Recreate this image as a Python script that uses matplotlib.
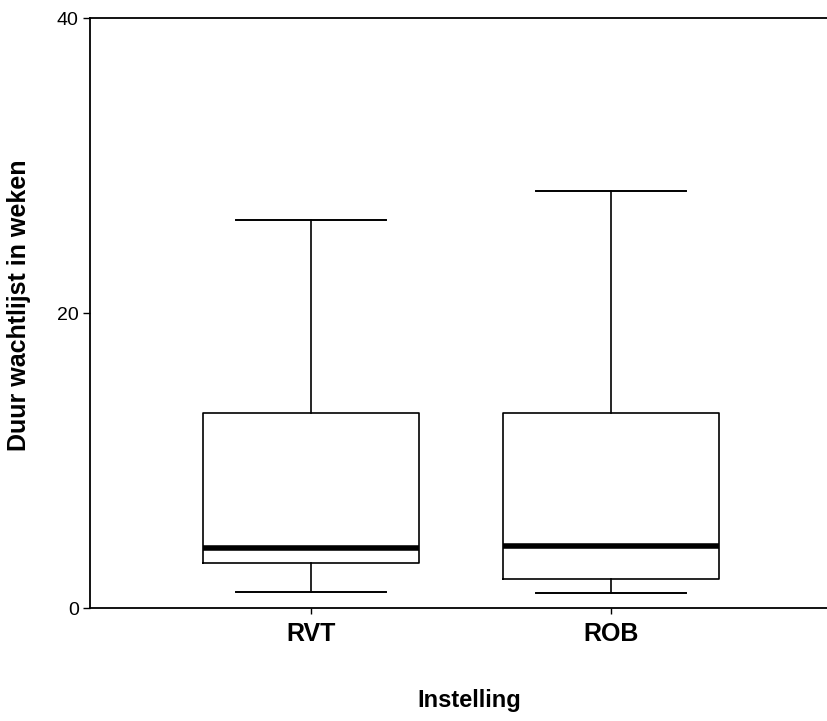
import matplotlib
matplotlib.use("Agg")
import matplotlib.pyplot as plt

plt.rcParams['font.family'] = ['Liberation Sans', 'DejaVu Sans']

categories = ["RVT", "ROB"]
whisker_low = [1.1, 1.0]
q1 = [3.05, 2.0]
medians = [4.1, 4.2]
q3 = [13.2, 13.2]
whisker_high = [26.3, 28.3]
y_ticks = [0, 20, 40]

stats = []
for i, c in enumerate(categories):
    stats.append(dict(label=c, whislo=whisker_low[i], q1=q1[i], med=medians[i],
                      q3=q3[i], whishi=whisker_high[i], fliers=[]))

fig = plt.figure(figsize=(8.27, 7.21), dpi=100)
ax = fig.add_axes([0.1088, 0.1567, 0.8912, 0.8183])

positions = list(range(1, len(categories) + 1))
ax.bxp(stats, positions=positions, widths=0.72, showfliers=False,
       boxprops=dict(color='black', linewidth=1.2),
       whiskerprops=dict(color='black', linewidth=1.2),
       capprops=dict(color='black', linewidth=1.4),
       medianprops=dict(color='black', linewidth=4),
       capwidths=0.5)

ax.set_xlim(0.263, 2.72)
ax.set_ylim(0, 40)
ax.set_yticks(y_ticks)
ax.set_yticklabels([str(v) for v in y_ticks], fontsize=14)
ax.set_xticks(positions)
ax.set_xticklabels(categories, fontsize=18, fontweight='bold')
ax.tick_params(axis='y', length=5, width=1, pad=3)
ax.tick_params(axis='x', length=4, width=1, pad=6)

ax.spines['right'].set_visible(False)
for s in ['left', 'bottom', 'top']:
    ax.spines[s].set_linewidth(1.3)

fig.text(19 / 827, 1 - 305 / 721, "Duur wachtlijst in weken", rotation=90,
         ha='center', va='center', fontsize=18, fontweight='bold')
fig.text(469 / 827, 1 - 700 / 721, "Instelling", ha='center', va='center',
         fontsize=17, fontweight='bold')

fig.savefig("out.png", dpi=100)
